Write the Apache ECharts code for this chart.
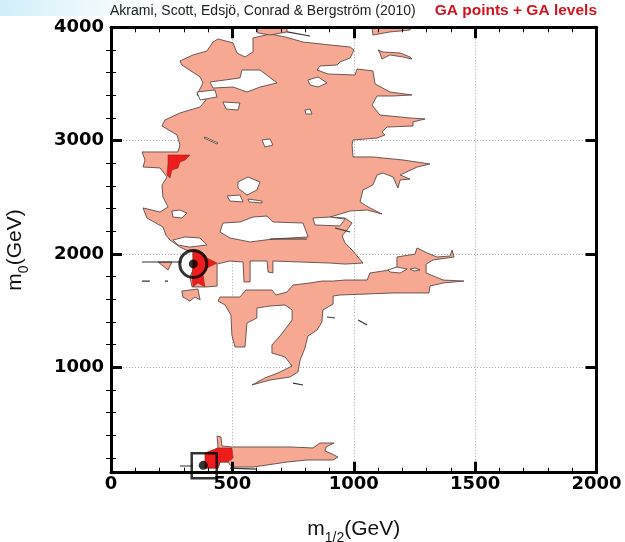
<!DOCTYPE html>
<html>
<head>
<meta charset="utf-8">
<script src="https://cdn.jsdelivr.net/npm/echarts@6/dist/echarts.min.js"></script>
<style>
  html, body { margin: 0; padding: 0; background: #fff; }
  #chart { width: 625px; height: 542px; }
</style>
</head>
<body>
<div id="chart"></div>
<script>
// ---- axes -------------------------------------------------------------
const xRange = [0, 2000];
const yRange = [70, 4000];
const xTickStep = 500;
const yMajorTicks = [1000, 2000, 3000];
const yLabelTicks = [1000, 2000, 3000, 4000];
const yMinorTicks = [200, 400, 600, 800, 1200, 1400, 1600, 1800, 2200, 2400,
                     2600, 2800, 3200, 3400, 3600, 3800];

// ---- GA level regions in the (m1/2, m0) plane, GeV --------------------
const mainRegion = [
  [284,3703],[338,3756],[395,3791],[420,3870],[441,3897],[503,3862],[519,3773],[552,3738],
  [585,3782],[585,3906],[655,3941],[717,3915],[791,3870],[902,3844],[985,3826],[1001,3800],
  [985,3729],[943,3694],[931,3667],[861,3659],[849,3623],[894,3588],[1005,3579],[1014,3632],
  [1079,3615],[1088,3500],[1149,3429],[1240,3403],[1162,3394],[1096,3394],[1075,3314],
  [1108,3226],[1232,3200],[1294,3191],[1244,3165],[1244,3129],[1137,3120],[1116,3076],
  [1129,3050],[1096,3023],[997,3006],[993,2961],[997,2856],[1079,2856],[1203,2829],
  [1314,2794],[1261,2767],[1191,2697],[1232,2661],[1191,2653],[1182,2582],[1162,2679],
  [1120,2714],[1096,2697],[1079,2609],[1038,2564],[1026,2459],[1067,2406],[1116,2353],
  [1055,2388],[985,2379],[931,2344],[902,2326],[964,2317],[993,2273],[972,2211],[952,2159],
  [964,2097],[993,2035],[1038,1920],[964,1911],[902,1920],[779,1929],[667,1938],[667,1832],
  [647,1841],[643,1938],[573,1938],[573,1753],[548,1753],[544,1929],[490,1938],[437,1911],
  [437,1717],[395,1709],[334,1709],[325,1797],[338,1859],[338,2017],[309,2035],[284,2061],
  [243,2123],[226,2167],[214,2238],[148,2317],[132,2406],[202,2370],[235,2414],[214,2503],
  [210,2609],[231,2679],[202,2759],[132,2767],[140,2829],[128,2900],[202,2900],[276,2900],
  [284,2961],[272,3050],[210,3129],[222,3182],[284,3244],[367,3297],[391,3359],[354,3403],
  [379,3509],[367,3562],[292,3667]
];
const lowerRegion = [
  [449,1620],[531,1620],[556,1682],[663,1682],[680,1638],[725,1664],[750,1726],[820,1744],
  [869,1761],[915,1761],[964,1770],[1055,1770],[1067,1832],[1149,1859],[1178,1885],
  [1178,1973],[1252,1999],[1261,2053],[1302,2009],[1343,1973],[1397,1982],[1405,2035],
  [1413,1973],[1327,1947],[1298,1911],[1298,1832],[1368,1770],[1454,1761],[1368,1744],
  [1314,1717],[1310,1656],[1162,1656],[1055,1647],[943,1638],[915,1629],[915,1558],
  [873,1506],[869,1400],[849,1329],[811,1276],[799,1170],[779,1064],[770,958],[737,914],
  [655,888],[581,844],[634,906],[688,950],[746,1011],[717,1091],[663,1126],[663,1197],
  [696,1276],[725,1356],[746,1417],[746,1506],[717,1550],[655,1541],[601,1523],[601,1435],
  [560,1391],[552,1179],[511,1179],[498,1285],[494,1461],[470,1550],[441,1585]
];
const lowMassStrip = [
  [395,244],[441,288],[437,394],[453,385],[457,306],[498,297],[614,297],[737,297],[832,288],
  [861,332],[919,332],[886,297],[882,261],[911,235],[935,208],[915,182],[807,182],[725,164],
  [643,138],[585,120],[498,120],[482,164],[449,164],[441,111],[395,111]
];
const smallRegions = [
  [[601,4000],[725,4000],[725,3959],[655,3932],[605,3950]],
  [[1075,4000],[1232,4000],[1232,3976],[1149,3959],[1079,3932]],
  [[1100,3800],[1120,3782],[1191,3773],[1232,3738],[1240,3720],[1203,3738],[1149,3756],
   [1116,3720],[1108,3773]],
  [[292,1673],[358,1691],[367,1594],[346,1620],[325,1585],[296,1620]],
  [[194,1929],[251,1929],[235,1859]]
];
// excluded pockets inside the regions
const holes = [
  [[408,3517],[531,3553],[540,3623],[614,3623],[684,3509],[614,3473],[560,3429],[503,3473],[420,3464]],
  [[354,3429],[428,3447],[437,3385],[367,3359]],
  [[461,3341],[531,3332],[523,3270],[474,3279]],
  [[811,3535],[853,3562],[890,3509],[853,3473],[820,3491]],
  [[799,3270],[820,3279],[828,3235],[803,3235]],
  [[622,3006],[655,3015],[667,2961],[634,2944]],
  [[387,3032],[441,2979],[437,2970],[383,3023]],
  [[523,2635],[564,2679],[614,2635],[601,2564],[560,2520],[523,2582]],
  [[478,2512],[531,2520],[544,2459],[490,2467]],
  [[564,2485],[622,2467],[622,2450],[569,2459]],
  [[251,2379],[284,2388],[313,2361],[292,2317],[255,2326]],
  [[449,2194],[461,2273],[531,2282],[585,2326],[643,2335],[667,2282],[791,2273],[812,2150],
   [667,2132],[573,2106],[490,2141]],
  [[832,2317],[902,2326],[964,2308],[943,2247],[840,2256]],
  [[255,2123],[305,2150],[367,2141],[395,2079],[325,2061],[276,2079]],
  [[1141,1859],[1178,1885],[1220,1867],[1191,1832],[1149,1841]],
  [[1232,1867],[1252,1876],[1273,1859],[1248,1850]]
];
// highest-likelihood patches
const bestPatches = [
  [[235,2873],[325,2873],[305,2829],[284,2811],[276,2759],[251,2741],[243,2670],[231,2697],[235,2803]],
  [[338,2035],[379,2009],[395,1964],[437,1920],[395,1876],[379,1814],[387,1709],[358,1744],
   [338,1709],[334,1814],[338,1911]],
  [[387,244],[441,288],[498,288],[503,200],[482,164],[449,164],[441,111],[387,111]]
];
// thin contour slivers
const slivers = [
  [[128,1929],[292,1929]],
  [[725,3959],[820,3923]],
  [[923,2229],[985,2194]],
  [[750,861],[791,844]],
  [[1018,1417],[1055,1373]],
  [[890,1444],[923,1435]],
  [[128,1761],[160,1761]],
  [[222,1761],[235,1761]],
  [[284,129],[338,129]],
  [[490,111],[601,102]],
  [[655,2132],[807,2132]]
];
// markers
const bestFitPoint = [339, 1912];
const lowMassPoint = [380, 135];
const lowMassBox = [384, 131];

const PINK = '#f7a893';
const RED = '#ee1c1c';
const EDGE = '#5b4a45';

function polygonSeries(points, fill, stroke, lw, z) {
  return {
    type: 'custom', coordinateSystem: 'cartesian2d', xAxisIndex: 0, yAxisIndex: 0,
    clip: true, silent: true, z: z, data: points, encode: { x: 0, y: 1 },
    renderItem: function (params, api) {
      if (params.dataIndex !== 0) return null;
      return {
        type: 'polygon',
        shape: { points: points.map(function (p) { return api.coord(p); }) },
        style: { fill: fill, stroke: stroke, lineWidth: lw }
      };
    }
  };
}
function polylineSeries(points, stroke, lw, z) {
  return {
    type: 'custom', coordinateSystem: 'cartesian2d', xAxisIndex: 0, yAxisIndex: 0,
    clip: true, silent: true, z: z, data: points, encode: { x: 0, y: 1 },
    renderItem: function (params, api) {
      if (params.dataIndex !== 0) return null;
      return {
        type: 'polyline',
        shape: { points: points.map(function (p) { return api.coord(p); }) },
        style: { fill: null, stroke: stroke, lineWidth: lw }
      };
    }
  };
}

const series = [];
[mainRegion, lowerRegion, lowMassStrip].concat(smallRegions).forEach(function (r) {
  series.push(polygonSeries(r, PINK, EDGE, 0.9, 2));
});
holes.forEach(function (h) { series.push(polygonSeries(h, '#fff', EDGE, 0.9, 3)); });
bestPatches.forEach(function (r) { series.push(polygonSeries(r, RED, '#8a2a20', 0.6, 4)); });
slivers.forEach(function (l) { series.push(polylineSeries(l, '#333', 1.2, 4)); });
series.push({
  type: 'scatter', xAxisIndex: 0, yAxisIndex: 0, silent: true, z: 6,
  data: [bestFitPoint], symbol: 'circle', symbolSize: 27,
  itemStyle: { color: 'rgba(0,0,0,0)', borderColor: '#000', borderWidth: 3 }
});
series.push({
  type: 'scatter', xAxisIndex: 0, yAxisIndex: 0, silent: true, z: 6,
  data: [lowMassBox], symbol: 'rect', symbolSize: 25,
  itemStyle: { color: 'rgba(0,0,0,0)', borderColor: '#000', borderWidth: 2.5 }
});
series.push({
  type: 'scatter', xAxisIndex: 0, yAxisIndex: 0, silent: true, z: 7,
  data: [bestFitPoint, lowMassPoint], symbol: 'circle', symbolSize: 9,
  itemStyle: { color: '#000' }
});

const plainNumber = function (v) { return String(v); };
const tickFont = { fontFamily: 'DejaVu Sans', fontWeight: 'bold', fontSize: 18, color: '#000',
  formatter: plainNumber };
const nameStyle = {
  fontFamily: 'Liberation Sans', fontSize: 21, color: '#111',
  rich: {
    m: { fontFamily: 'Liberation Sans', fontSize: 21, color: '#111', verticalAlign: 'bottom', padding: [0, 0, 5, 0] },
    s: { fontFamily: 'Liberation Sans', fontSize: 14, color: '#111', verticalAlign: 'bottom' }
  }
};
const frameLine = { show: true, onZero: false, lineStyle: { color: '#000', width: 3 } };
const majorTick = { show: true, inside: true, length: 11, lineStyle: { color: '#000', width: 3 } };
const minorTickX = { show: true, splitNumber: 5, length: 5, lineStyle: { color: '#000', width: 1 } };
const hidden = { show: false };
const gridDots = { show: true, lineStyle: { color: '#a8a8a8', width: 1, type: [1, 2] } };

function xAx(extra) {
  return Object.assign({ type: 'value', min: xRange[0], max: xRange[1], interval: xTickStep,
    splitLine: hidden, axisLabel: hidden }, extra);
}
function yAx(extra) {
  return Object.assign({ type: 'value', min: yRange[0], max: yRange[1],
    splitLine: hidden, axisLabel: hidden }, extra);
}

const option = {
  animation: false,
  backgroundColor: '#fff',
  title: [
    { text: 'Akrami, Scott, Edsjö, Conrad & Bergström (2010)', left: 110, top: 4, padding: 0,
      textStyle: { fontFamily: 'Liberation Sans', fontSize: 14, fontWeight: 'normal', color: '#222' } },
    { text: 'GA points + GA levels', right: 28, top: 3, padding: 0,
      textStyle: { fontFamily: 'Liberation Sans', fontSize: 15.5, fontWeight: 'bold', color: '#d0141e' } }
  ],
  graphic: [{
    type: 'rect', left: 0, top: 0, silent: true, z: -10,
    shape: { width: 230, height: 16 },
    style: { fill: new echarts.graphic.LinearGradient(0, 0, 1, 0.6, [
      { offset: 0, color: 'rgba(190,232,246,0.75)' },
      { offset: 1, color: 'rgba(255,255,255,0)' }]) }
  }],
  grid: { left: 111, right: 28.5, top: 27.3, bottom: 69.3, containLabel: false,
    outerBoundsMode: 'none' },
  xAxis: [
    xAx({ position: 'bottom', z: 0, axisLine: hidden, axisTick: hidden, splitLine: gridDots }),
    xAx({ position: 'bottom', z: 10, axisLine: frameLine, axisTick: majorTick, minorTick: minorTickX,
      axisLabel: Object.assign({ show: true, margin: 3 }, tickFont),
      name: '{m|m}{s|1/2}{m|(GeV)}', nameLocation: 'middle', nameGap: 46, nameTextStyle: nameStyle }),
    xAx({ position: 'top', z: 10, axisLine: frameLine, axisTick: majorTick, minorTick: minorTickX })
  ],
  yAxis: [
    yAx({ position: 'left', z: 0, axisLine: hidden,
      axisTick: { show: false, customValues: yMajorTicks }, splitLine: gridDots }),
    yAx({ position: 'left', z: 10, axisLine: frameLine,
      axisTick: Object.assign({ customValues: yMajorTicks }, majorTick),
      axisLabel: Object.assign({ show: true, margin: 7, customValues: yLabelTicks }, tickFont),
      name: '{m|m}{s|0}{m|(GeV)}', nameLocation: 'middle', nameRotate: 90, nameGap: 80,
      nameTextStyle: nameStyle }),
    yAx({ position: 'left', z: 10, axisLine: hidden,
      axisTick: { show: true, inside: true, length: 5, customValues: yMinorTicks,
        lineStyle: { color: '#000', width: 1 } } }),
    yAx({ position: 'right', z: 10, axisLine: frameLine,
      axisTick: Object.assign({ customValues: yMajorTicks }, majorTick) }),
    yAx({ position: 'right', z: 10, axisLine: hidden,
      axisTick: { show: true, inside: true, length: 5, customValues: yMinorTicks,
        lineStyle: { color: '#000', width: 1 } } })
  ],
  series: series
};

const chart = echarts.init(document.getElementById('chart'), null, { renderer: 'canvas' });
chart.setOption(option);
</script>
</body>
</html>
